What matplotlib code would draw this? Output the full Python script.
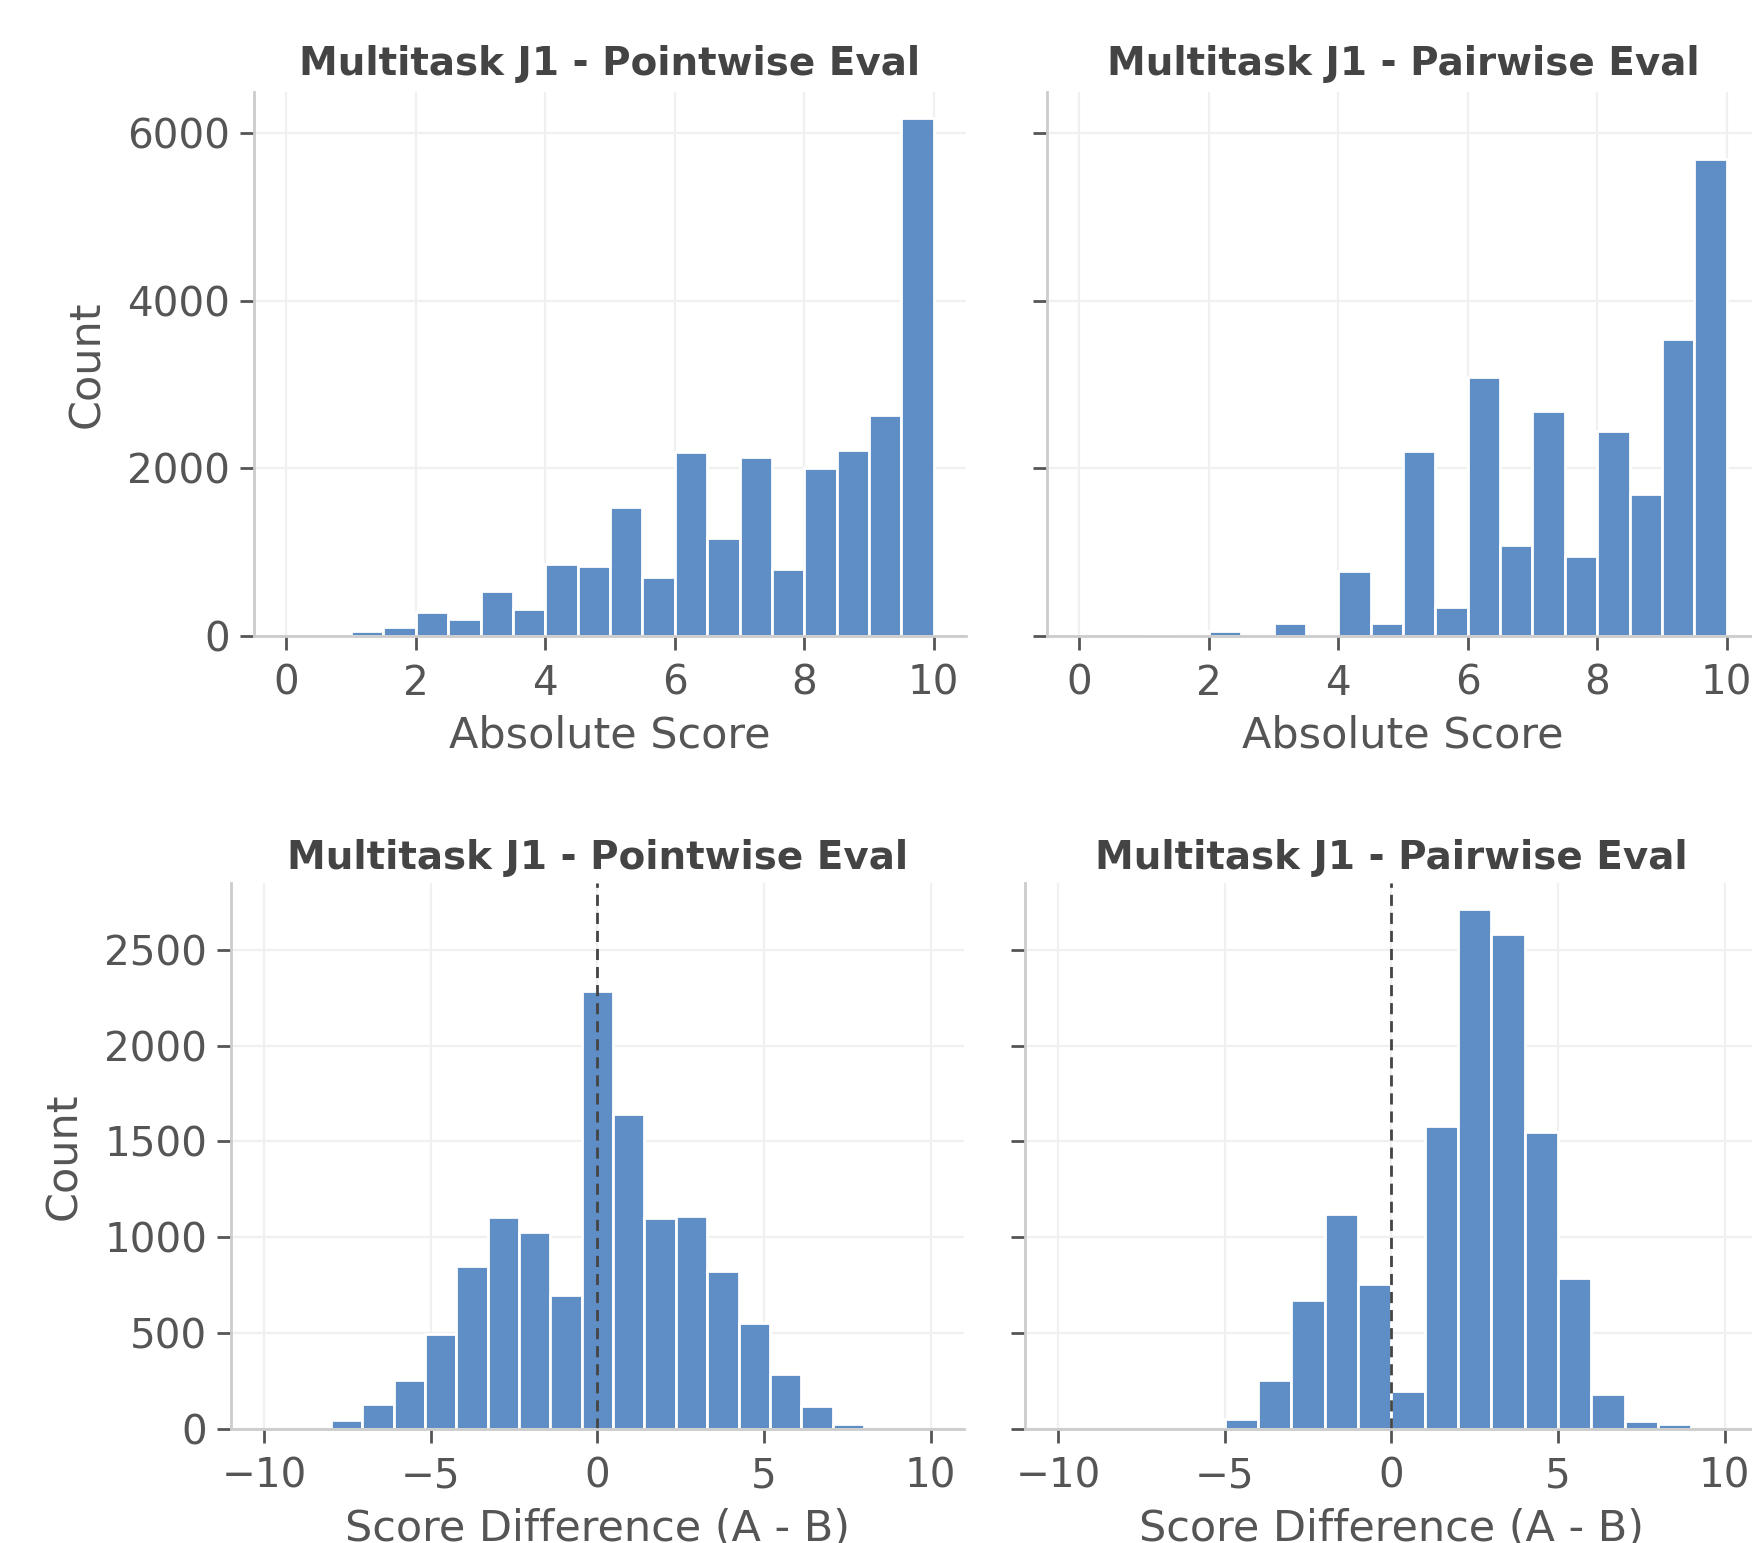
import numpy as np
import matplotlib
matplotlib.use('Agg')
import matplotlib.pyplot as plt

# absolute score histograms (bins of 0.5 from 1 to 10)
abs_edges = np.arange(1.0, 10.01, 0.5)
pointwise_abs = [64, 110, 289, 202, 537, 326, 863, 836, 1543, 702,
                 2199, 1175, 2130, 799, 2006, 2218, 2640, 6180]
pairwise_abs = [28, 0, 60, 0, 152, 0, 781, 152, 2208, 344,
                3094, 1088, 2686, 950, 2447, 1690, 3545, 5693]

# score difference histograms
pointwise_diff_edges = np.linspace(-8, 8, 18)
pointwise_diff = [48, 132, 258, 498, 849, 1107, 1025, 699, 2282,
                  1645, 1099, 1113, 825, 554, 286, 118, 24]
pairwise_diff_edges = np.arange(-5, 9.01, 1.0)
pairwise_diff = [50, 256, 675, 1123, 757, 200, 1581, 2712, 2582,
                 1547, 789, 182, 42, 26]

titles = ['Multitask J1 - Pointwise Eval', 'Multitask J1 - Pairwise Eval']

bar_color = '#5f8ec7'
text_color = '#555555'

plt.rcParams['font.family'] = 'DejaVu Sans'
plt.rcParams['text.color'] = text_color
plt.rcParams['axes.labelcolor'] = text_color
plt.rcParams['xtick.color'] = text_color
plt.rcParams['ytick.color'] = text_color

fig = plt.figure(figsize=(8.76, 7.715), dpi=200)

ax_tl = fig.add_axes([0.145, 0.5878, 0.4064, 0.3526])
ax_tr = fig.add_axes([0.5976, 0.5878, 0.4064, 0.3526], sharey=ax_tl)
ax_bl = fig.add_axes([0.1318, 0.0739, 0.4184, 0.3538])
ax_br = fig.add_axes([0.585, 0.0739, 0.4184, 0.3538], sharey=ax_bl)


def style(ax, title, xlabel, ylabel=None, tpad=6):
    ax.set_title(title, fontsize=14, fontweight='bold', color='#444444', pad=tpad)
    ax.set_xlabel(xlabel, fontsize=15.5, labelpad=4)
    if ylabel:
        ax.set_ylabel(ylabel, fontsize=15.5, labelpad=7)
    ax.grid(True, color='#f0f0f0', linewidth=0.8)
    ax.set_axisbelow(True)
    for s in ['top', 'right']:
        ax.spines[s].set_visible(False)
    for s in ['left', 'bottom']:
        ax.spines[s].set_color('#cccccc')
        ax.spines[s].set_linewidth(1.0)
    ax.tick_params(labelsize=14.6, length=5, width=1.0, color='#555555')
    ax.tick_params(axis='x', pad=5)


def hist_bars(ax, edges, counts):
    edges = np.asarray(edges)
    ax.bar(edges[:-1], counts, width=np.diff(edges), align='edge',
           color=bar_color, edgecolor='white', linewidth=1.0)


hist_bars(ax_tl, abs_edges, pointwise_abs)
hist_bars(ax_tr, abs_edges, pairwise_abs)
hist_bars(ax_bl, pointwise_diff_edges, pointwise_diff)
hist_bars(ax_br, pairwise_diff_edges, pairwise_diff)

for ax in [ax_tl, ax_tr]:
    ax.set_xlim(-0.5, 10.5)
    ax.set_xticks([0, 2, 4, 6, 8, 10])
ax_tl.set_ylim(0, max(pointwise_abs + pairwise_abs) * 1.05)
ax_tl.set_yticks([0, 2000, 4000, 6000])

for ax in [ax_bl, ax_br]:
    ax.set_xlim(-11, 11)
    ax.set_xticks([-10, -5, 0, 5, 10])
    ax.axvline(0, color='#444444', linestyle='--', linewidth=1.0, dashes=(4, 2.5))
ax_bl.set_ylim(0, max(pointwise_diff + pairwise_diff) * 1.05)
ax_bl.set_yticks([0, 500, 1000, 1500, 2000, 2500])

style(ax_tl, titles[0], 'Absolute Score', 'Count', tpad=6)
style(ax_tr, titles[1], 'Absolute Score', tpad=6)
style(ax_bl, titles[0], 'Score Difference (A - B)', 'Count', tpad=5)
style(ax_br, titles[1], 'Score Difference (A - B)', tpad=5)

ax_tr.tick_params(labelleft=False)
ax_br.tick_params(labelleft=False)

fig.savefig('out.png', dpi=200)
